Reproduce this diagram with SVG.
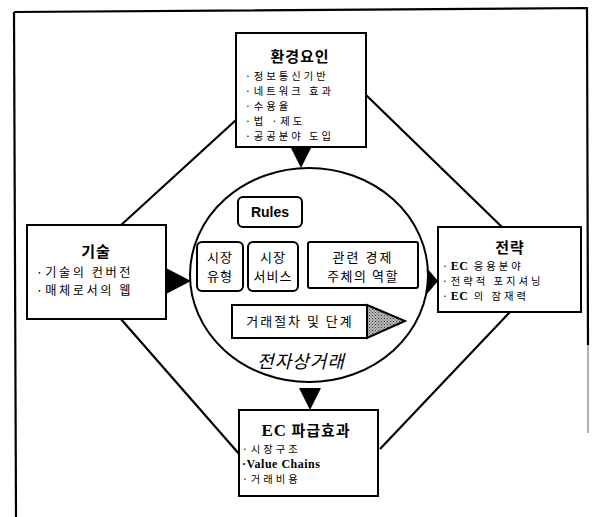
<svg xmlns="http://www.w3.org/2000/svg" width="592" height="517" viewBox="0 0 592 517">
<style>
.box{fill:#fff;stroke:#000;stroke-width:2}
.ln{stroke:#000;stroke-width:2.2;fill:none}
.t{font-family:"Noto Sans CJK KR","Noto Sans",sans-serif;font-size:10.3px;letter-spacing:3px;fill:#000}
.c{font-family:"Noto Sans CJK KR","Noto Sans",sans-serif;font-size:13px;letter-spacing:1px;fill:#000}
.h{font-family:"Noto Sans CJK KR","Noto Sans",sans-serif;font-size:15px;font-weight:bold;letter-spacing:1px;fill:#000}
.s{font-family:"Liberation Serif","Noto Sans CJK KR",serif;font-weight:bold;font-size:12px;letter-spacing:0.5px;fill:#000}
.tip{fill:#000}
</style>
<defs>
<pattern id="dots" width="3" height="3" patternUnits="userSpaceOnUse">
<rect width="3" height="3" fill="#bbb"/>
<rect width="1" height="1" fill="#333"/>
<rect x="1.5" y="1.5" width="1" height="1" fill="#555"/>
</pattern>
</defs>
<rect width="592" height="517" fill="#fff"/>
<g id="frame">
<path class="ln" d="M14 12 L587 8 L588 345" stroke-width="2"/>
<path d="M588 345 L588 433" stroke="#999" stroke-width="1.5"/>
<path class="ln" d="M14 12 L16 517" stroke-width="2"/>
</g>
<g id="connectors">
<path class="ln" d="M236 120 L120 226"/>
<path class="ln" d="M366 95 L503 228"/>
<path class="ln" d="M120 318 L240 455"/>
<path class="ln" d="M510 312 L380 449"/>
<polygon class="tip" points="291,148 311,148 301,168"/>
<polygon class="tip" points="166,268 166,294 191,281"/>
<polygon class="tip" points="427,268 427,294 438,281"/>
<polygon class="tip" points="299,388 321,388 310,410"/>
</g>
<g id="env">
<rect class="box" x="236" y="33" width="130" height="114"/>
<text class="h" x="300" y="62" text-anchor="middle">환경요인</text>
<text class="t" x="245" y="80">·정보통신기반</text>
<text class="t" x="245" y="95">·네트워크 효과</text>
<text class="t" x="245" y="110">·수용율</text>
<text class="t" x="245" y="125">·법 ·제도</text>
<text class="t" x="245" y="140">·공공분야 도입</text>
</g>
<g id="tech">
<rect class="box" x="27" y="225" width="139" height="94"/>
<text class="h" x="96" y="257" text-anchor="middle">기술</text>
<text class="t" x="36" y="277" style="font-size:12.2px;letter-spacing:2.5px">·기술의 컨버전</text>
<text class="t" x="36" y="295" style="font-size:12.2px;letter-spacing:2.5px">·매체로서의 웹</text>
</g>
<g id="strategy">
<rect class="box" x="438" y="227" width="143" height="85"/>
<text class="h" x="510" y="253" text-anchor="middle">전략</text>
<text class="t" x="442" y="270">·<tspan class="s">EC</tspan> 응용분야</text>
<text class="t" x="442" y="285">·전략적 포지셔닝</text>
<text class="t" x="442" y="300">·<tspan class="s">EC</tspan> 의 잠재력</text>
</g>
<g id="effect">
<rect class="box" x="239" y="410" width="139" height="86"/>
<text class="h" x="306" y="436" text-anchor="middle"><tspan style="font-family:'Liberation Serif',serif;font-size:17px">EC</tspan> 파급효과</text>
<text class="t" x="242" y="453">·시장구조</text>
<text class="s" x="242" y="468">·Value Chains</text>
<text class="t" x="242" y="483">·거래비용</text>
</g>
<g id="ec">
<ellipse cx="309" cy="275" rx="119" ry="107" fill="#fff" stroke="#000" stroke-width="2"/>
<g id="rules">
<rect class="box" x="238" y="197" width="64" height="30" rx="5"/>
<text x="270" y="217" text-anchor="middle" font-family="Liberation Sans,sans-serif" font-weight="bold" font-size="14">Rules</text>
</g>
<g id="type">
<rect class="box" x="197" y="242" width="46" height="49" rx="5"/>
<text class="c" x="220" y="262" text-anchor="middle">시장</text>
<text class="c" x="220" y="281" text-anchor="middle">유형</text>
</g>
<g id="service">
<rect class="box" x="248" y="242" width="50" height="49" rx="5"/>
<text class="c" x="273" y="262" text-anchor="middle">시장</text>
<text class="c" x="273" y="281" text-anchor="middle">서비스</text>
</g>
<g id="role">
<rect class="box" x="308" y="242" width="110" height="46" rx="2"/>
<text class="c" x="363" y="262" text-anchor="middle" style="letter-spacing:2px">관련 경제</text>
<text class="c" x="363" y="281" text-anchor="middle" style="letter-spacing:1.5px">주체의 역할</text>
</g>
<g id="process">
<polygon points="367,305 405,321 367,338" fill="url(#dots)" stroke="#000" stroke-width="2"/>
<rect class="box" x="232" y="305" width="135" height="33"/>
<text class="c" x="300" y="326" text-anchor="middle" style="letter-spacing:2px">거래절차 및 단계</text>
</g>
<text x="301" y="368" text-anchor="middle" font-family="Noto Sans CJK KR,sans-serif" font-style="italic" font-size="18" letter-spacing="1">전자상거래</text>
</g>
</svg>
